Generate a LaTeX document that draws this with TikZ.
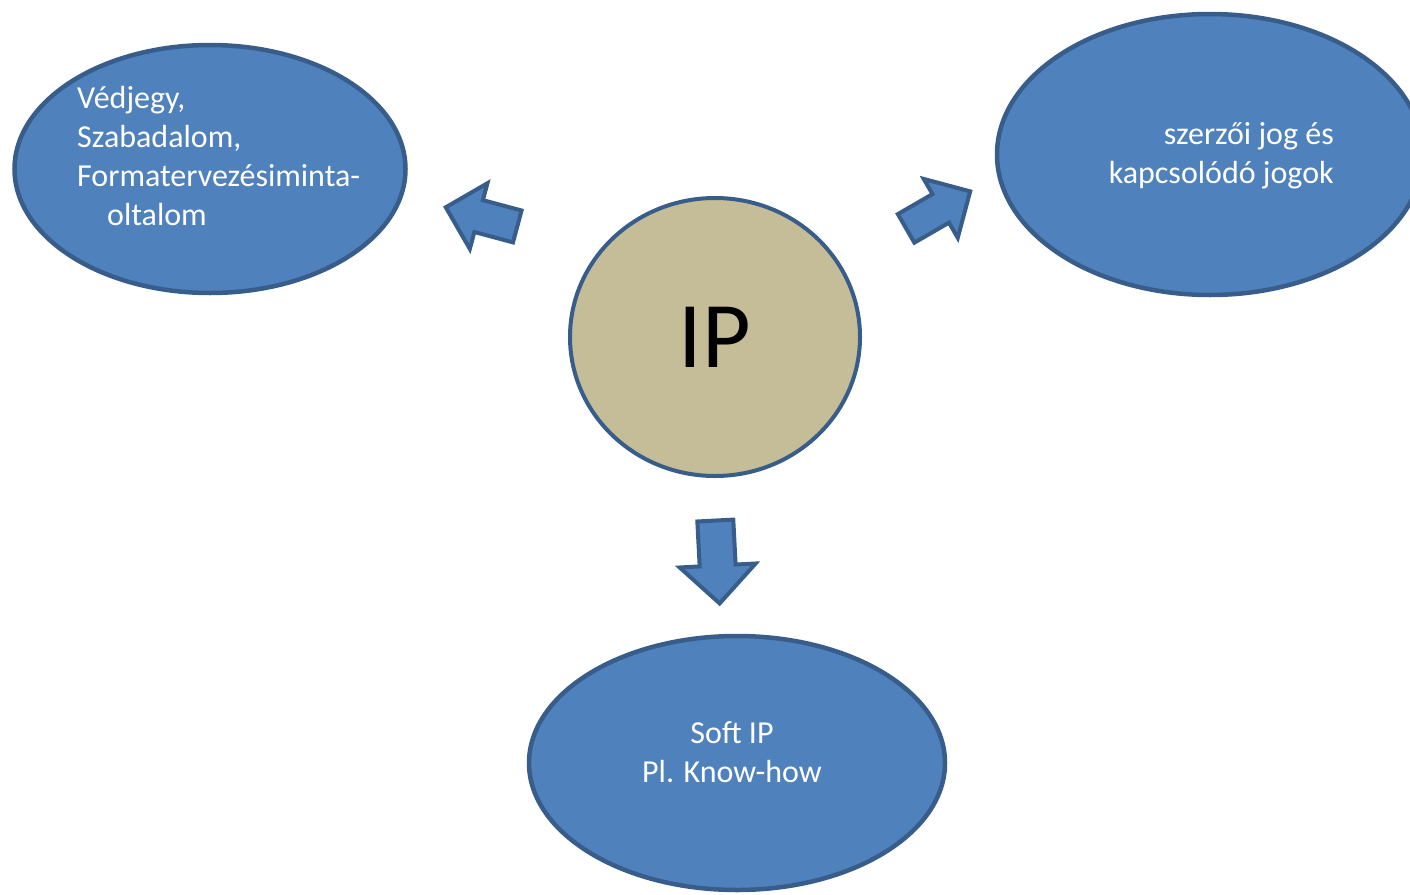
\documentclass[tikz,border=0pt]{standalone}
\usepackage{fontspec}
\setmainfont{Carlito}
\usetikzlibrary{shapes,arrows,positioning,calc}
\definecolor{ipblue}{HTML}{4F81BD}
\definecolor{ipborder}{HTML}{385D8A}
\definecolor{iptan}{HTML}{C4BD97}

\begin{document}
\begin{tikzpicture}[x=1pt, y=-1pt,
		oval/.style={ellipse, draw=ipborder, line width=4.5pt, fill=ipblue, inner sep=0pt},
		bigarrow/.style={single arrow, draw=ipborder, line width=4pt, fill=ipblue, inner xsep=0pt, single arrow tip angle=90},
		lbl/.style={text=white, font=\fontsize{32}{39}\selectfont, inner sep=0pt}]
	\useasboundingbox (0,0) rectangle (1410,894);

	% Central circle
	\node[ellipse, draw=ipborder, line width=4pt, fill=iptan, inner sep=0pt, minimum width=290pt, minimum height=278pt, font=\fontsize{94}{100}\selectfont] (ip) at (715,337) {IP};

	% Outer ellipses
	\node[oval, minimum width=391pt, minimum height=248pt] (vedjegy) at (210,169) {};
	\node[oval, minimum width=426pt, minimum height=281pt] (szerzoi) at (1210,154.5) {};
	\node[oval, minimum width=416pt, minimum height=254pt] (softip) at (737,763) {};

	% Labels
	\node[lbl, align=left, anchor=north west] (vedjegytext) at (77,86) {Védjegy,\\Szabadalom,\\Formatervezésiminta-\\\hspace*{30pt}oltalom};
	\node[lbl, align=right, anchor=north east] (szerzoitext) at (1334,122) {szerzői jog és\\kapcsolódó jogok};
	\node[lbl, align=center, anchor=north] (softiptext) at (732,721) {Soft IP\\Pl. Know-how};

	% Block arrows from the centre outwards
	\node[bigarrow, minimum height=74pt, minimum width=64pt, inner ysep=14.5pt, single arrow head extend=17.5pt, rotate=165] (toleft) at (489.5,219) {};
	\node[bigarrow, minimum height=74pt, minimum width=64pt, inner ysep=14.5pt, single arrow head extend=17.5pt, rotate=30] (toright) at (931,214) {};
	\node[bigarrow, minimum height=83pt, minimum width=72pt, inner ysep=16pt, single arrow head extend=20pt, rotate=-87] (todown) at (717,553) {};
\end{tikzpicture}
\end{document}
